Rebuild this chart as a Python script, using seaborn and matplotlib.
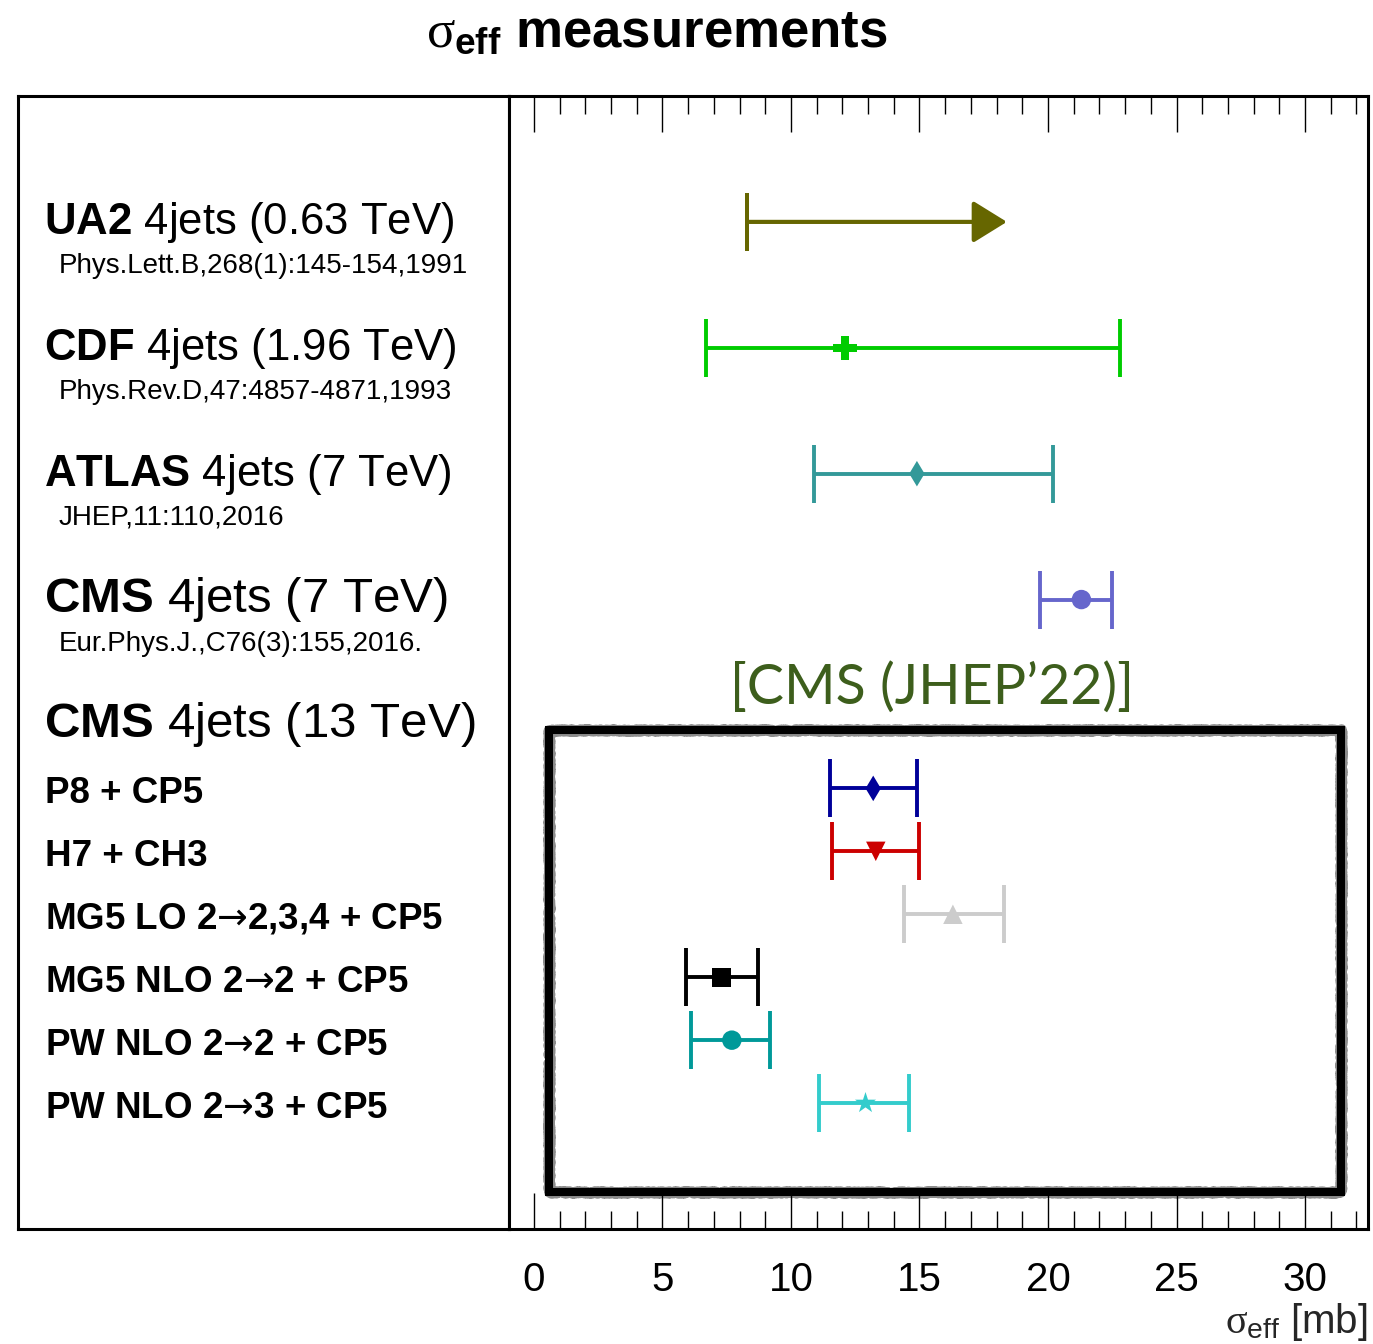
import pandas as pd
import seaborn as sns
import matplotlib.pyplot as plt
from matplotlib.patches import Rectangle
from matplotlib.ticker import MultipleLocator

# sigma_eff measurements [mb], one row per entry (row = vertical slot)
names = ['CDF', 'ATLAS', 'CMS7', 'P8', 'H7', 'MG5LO', 'MG5NLO', 'PW22', 'PW23']
rows = [4, 6, 8, 11, 12, 13, 14, 15, 16]
sigma = [12.1, 14.9, 21.3, 13.2, 13.3, 16.3, 7.3, 7.7, 12.9]
err_lo = [5.4, 4.0, 1.6, 1.7, 1.7, 1.9, 1.4, 1.6, 1.8]
err_hi = [10.7, 5.3, 1.2, 1.7, 1.7, 2.0, 1.4, 1.5, 1.7]

# UA2 only gives a lower limit
ua2_row = 2
ua2_low = 8.3
ua2_arrow_end = 18.4

colors = {'CDF': '#00cc00', 'ATLAS': '#339999', 'CMS7': '#6666cc',
          'P8': '#000099', 'H7': '#cc0000', 'MG5LO': '#cccccc',
          'MG5NLO': '#000000', 'PW22': '#009999', 'PW23': '#33cccc'}
ua2_color = '#666600'
markers = {'CDF': 'P', 'ATLAS': 'd', 'CMS7': 'o', 'P8': 'd', 'H7': 'v',
           'MG5LO': '^', 'MG5NLO': 's', 'PW22': 'o', 'PW23': '*'}
msize = {'CDF': 17, 'ATLAS': 13, 'CMS7': 14, 'P8': 13, 'H7': 14,
         'MG5LO': 14, 'MG5NLO': 14, 'PW22': 14, 'PW23': 16}

# left panel texts
exp_bold = ['UA2', 'CDF', 'ATLAS', 'CMS', 'CMS']
exp_rest = [' 4jets (0.63 TeV)', ' 4jets (1.96 TeV)', ' 4jets (7 TeV)',
            ' 4jets (7 TeV)', ' 4jets (13 TeV)']
exp_size = [31.5, 31.5, 31.5, 35.5, 35.5]
exp_rows = [2, 4, 6, 8, 10]
refs = ['Phys.Lett.B,268(1):145-154,1991', 'Phys.Rev.D,47:4857-4871,1993',
        'JHEP,11:110,2016', 'Eur.Phys.J.,C76(3):155,2016.']
arrow = r'$\mathsf{→}$'
mc_labels = ['P8 + CP5', 'H7 + CH3', 'MG5 LO 2' + arrow + '2,3,4 + CP5',
             'MG5 NLO 2' + arrow + '2 + CP5', 'PW NLO 2' + arrow + '2 + CP5',
             'PW NLO 2' + arrow + '3 + CP5']
mc_rows = [11, 12, 13, 14, 15, 16]

df = pd.DataFrame({'name': names, 'row': rows, 'sigma': sigma,
                   'lo': err_lo, 'hi': err_hi})

sns.set_theme(style='white')
plt.rcParams['font.family'] = ['Liberation Sans', 'DejaVu Sans']
plt.rcParams['mathtext.fontset'] = 'custom'
plt.rcParams['mathtext.rm'] = 'Liberation Sans'
plt.rcParams['mathtext.bf'] = 'Liberation Sans:bold'
plt.rcParams['mathtext.it'] = 'Liberation Serif'
plt.rcParams['mathtext.sf'] = 'DejaVu Sans'
plt.rcParams['text.color'] = 'black'

fig = plt.figure(figsize=(13.73, 13.44), dpi=100)
bottom = 1 - 1229 / 1344
height = 1133 / 1344
lax = fig.add_axes([18 / 1373, bottom, 491 / 1373, height])
ax = fig.add_axes([509 / 1373, bottom, 859 / 1373, height])

for a in (lax, ax):
    a.set_ylim(18, 0)
    for sp in a.spines.values():
        sp.set_visible(True)
        sp.set_color('black')
        sp.set_linewidth(2.2)

# ---- label panel
lax.set_xlim(0, 1)
lax.set_xticks([])
lax.set_yticks([])
tr = lax.get_yaxis_transform()
for b, r, fs, y in zip(exp_bold, exp_rest, exp_size, exp_rows):
    lax.text(0.053, y + 0.19, r'$\mathbf{' + b + '}$' + r, fontsize=fs,
             transform=tr, va='baseline', ha='left')
for ref, y in zip(refs, exp_rows):
    lax.text(0.083, y + 0.81, ref, fontsize=20, transform=tr,
             va='baseline', ha='left')
for lab, y in zip(mc_labels, mc_rows):
    lax.text(0.056, y + 0.23, lab, fontsize=26.5, fontweight='bold',
             transform=tr, va='baseline', ha='left')

# ---- measurement panel
for _, r in df.iterrows():
    ax.errorbar(r['sigma'], r['row'], xerr=[[r['lo']], [r['hi']]], fmt='none',
                ecolor=colors[r['name']], elinewidth=2.8, capsize=21,
                capthick=2.8, zorder=2)

sns.scatterplot(data=df, x='sigma', y='row', hue='name', style='name',
                size='name', palette=colors, markers=markers,
                sizes={k: v ** 2 for k, v in msize.items()},
                linewidth=0, legend=False, ax=ax, zorder=3)

# UA2 lower limit
ax.errorbar(ua2_low, ua2_row, xerr=0, fmt='none', ecolor=ua2_color,
            elinewidth=2.8, capsize=21, capthick=2.8)
ax.annotate('', xy=(ua2_arrow_end, ua2_row), xytext=(ua2_low, ua2_row),
            arrowprops=dict(arrowstyle='-|>,head_length=2.1,head_width=1.3',
                            mutation_scale=10, lw=3, color=ua2_color,
                            shrinkA=0, shrinkB=0))

# CMS 13 TeV box (thick black frame with a rough halo)
fuzz = Rectangle((0.58, 10.08), 31.4 - 0.58, 17.41 - 10.08, fill=False,
                 lw=7.6, ec='black', alpha=0.45, joinstyle='round',
                 capstyle='round', zorder=1)
fuzz.set_sketch_params(scale=1.0, length=1.5, randomness=3)
ax.add_patch(fuzz)
box = Rectangle((0.58, 10.08), 31.4 - 0.58, 17.41 - 10.08, fill=False,
                lw=5.8, ec='black', joinstyle='miter', zorder=1.1)
ax.add_patch(box)
ax.text(15.5, 9.4, '[CMS (JHEP’22)]', fontsize=40, color='#3d5e1c',
        family=['Lato', 'DejaVu Sans'], ha='center', va='center')

ax.set_xlim(-0.97, 32.45)
ax.set_ylim(18, 0)
ax.set_yticks([])
ax.set_ylabel('')
ax.xaxis.set_major_locator(MultipleLocator(5))
ax.xaxis.set_minor_locator(MultipleLocator(1))
ax.tick_params(axis='x', which='both', direction='in', top=True, bottom=True,
               color='black', width=1.0)
ax.tick_params(axis='x', which='major', length=26, labelsize=29, pad=23,
               labelcolor='black')
ax.tick_params(axis='x', which='minor', length=13)

ax.set_xlabel(r'$\sigma_{\mathrm{eff}}$ [mb]', fontsize=29, loc='right',
              va='baseline')
ax.xaxis.set_label_coords(1.0, -0.0918)

fig.text(657 / 1373, 1 - 47 / 1344, r'$\sigma_{\mathbf{eff}}$ measurements',
         fontsize=38, fontweight='bold', ha='center', va='baseline')

fig.savefig('out.png', dpi=100, facecolor='white')
